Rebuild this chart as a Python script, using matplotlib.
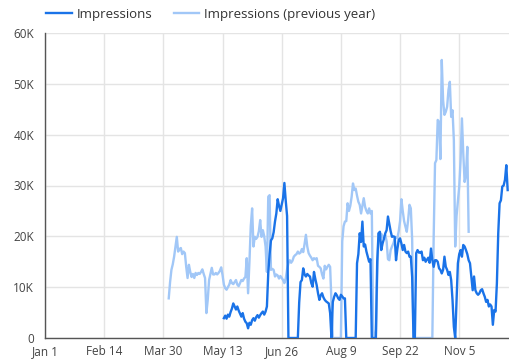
import matplotlib

matplotlib.use("Agg")
import matplotlib.pyplot as plt
import numpy as np

plt.rcParams["font.family"] = ["Open Sans", "DejaVu Sans"]

# daily impressions in thousands, indexed by day of year (Jan 1 = day 0)
prev_start = 92
prev_values = [
    7.8, 11, 13.4, 14.5, 16, 18, 19.9, 17, 17.5,
    17.7, 16.5, 17, 16.7, 14, 11.8, 14.4, 13, 12, 12.6,
    11.8, 12.8, 12.4, 12.8, 12.6, 13, 13.5, 12.6, 11.8, 4.9,
    7.5, 11.4, 12.6, 13.8, 12.5, 12.5, 12.8, 12.5, 12.8, 13.2,
    13.9, 12.4, 10.5, 9.8, 9.5, 10, 10.5, 11.4, 10.8, 10.6,
    11.0, 11.4, 10.5, 10.2, 10.8, 11.4, 11.2, 11.7, 12, 15.7,
    8.8, 15, 22, 25.5, 18, 19.9, 19.5, 19.9, 21, 23.2,
    19.9, 21.2, 20, 18, 13, 27.8, 28.1, 13.4, 13.6, 13.4,
    12.1, 12.5, 12.3, 11.7, 12.2, 11.8, 11.4, 10.8, 11.7, 13.5,
    14.7, 15.3, 14.8, 15.2, 16, 16.3, 16.5, 17, 16.6, 16.8,
    17.5, 16.9, 18.5, 20.3, 18, 16.7, 16.2, 15.8, 15.3, 15.7,
    15.5, 15.7, 14.2, 14.0, 13.7, 12.5, 11.7, 14.2, 13.5, 14.0,
    14.4, 14.0, 6.8, 0, 0, 0, 0, 0, 0, 0,
    19, 22, 22.9, 23, 26.5, 25, 26, 27.8, 30.4, 29.1,
    29.4, 28, 26.8, 26.2, 24.5, 26, 27.5, 25.8, 25, 24.5,
    25.5, 24.5, 25, 1.6, 0, 0, 12, 20.6, 19.5, 20.5,
    20.0, 19.5, 20.3, 19, 15.5, 15.3, 17.3, 18.0, 18.6, 19.5,
    19.8, 19.6, 21, 23, 27.3, 25, 23, 21.9, 20.9, 23.2,
    26.2, 25.5, 19.3, 0, 0, 0, 0, 0, 0, 0,
    0, 0, 0, 0, 0, 0, 0, 0, 20, 34.4,
    35, 42.9, 42.5, 35.2, 54.7, 46.8, 43.9, 44.5, 45.5, 48.8,
    50.4, 43.5, 44.8, 38.9, 18, 24, 27, 29.8, 35, 43.2,
    36.3, 30.7, 32, 37.6, 20.9,
]

cur_start = 133
cur_values = [
    3.9, 4.4, 3.8, 4.6, 4.2, 5.1, 5.8, 6.8,
    6.2, 5.6, 6.2, 5.4, 4.8, 4.2, 4.9, 3.8, 3.2, 2.9,
    1.9, 3.0, 2.6, 3.5, 3.9, 3.4, 4.1, 4.5, 4.0, 4.5,
    4.9, 5.2, 4.6, 5.2, 6.2, 12.8, 16.5, 19.2, 19.6, 20.8,
    22.9, 24.5, 27.3, 26.0, 25.0, 26.2, 27.5, 30.5, 27.0, 24.0,
    0, 0, 0, 0, 0, 0, 0, 0, 7.0, 11.0,
    11.4, 13.7, 12.5, 12.1, 12.6, 12.3, 12.1, 10.8, 10.1, 13.0,
    11.6, 10.4, 8.8, 7.5, 8.4, 8.8, 8.0, 7.5, 7.2, 7.0,
    6.8, 4.9, 0, 7.1, 8.1, 8.8, 8.4, 7.8, 7.5, 8.5,
    8.2, 7.8, 7.8, 0, 0, 0, 0, 0, 0, 0,
    0, 14.7, 16.5, 20.6, 18.9, 22.9, 18.0, 18.4, 17.0, 16.0,
    15.0, 15.5, 0, 0, 0, 0, 15, 20.6, 20.9, 17.3,
    18.6, 19.5, 20.6, 21.2, 23.9, 22.5, 21.0, 19.9, 20.0, 19.9,
    15.3, 17.5, 19.3, 19.6, 18.6, 17.3, 18.3, 17.0, 16.7, 17.0,
    16.0, 16.0, 12.0, 0, 0, 16.7, 17.3, 16.8, 16.8, 17.0,
    15.3, 15.8, 15.0, 15.4, 15.8, 14.8, 17.6, 15.3, 14.0, 15.3,
    15.3, 15.0, 13.7, 13.4, 12.7, 13.4, 16.0, 14.0, 13.4, 12.4,
    13.0, 11.4, 7.5, 2.2, 0, 7.5, 14.7, 16.5, 17.3, 16.0,
    18.3, 18.0, 17.3, 16.5, 15.3, 14.7, 12.1, 9.4, 12.1, 9.4,
    8.8, 8.5, 8.8, 9.4, 9.6, 8.8, 8.1, 7.1, 7.5, 6.2,
    6.6, 6.2, 2.6, 5.5, 5.2, 10.8, 20.6, 26.5, 27.1, 29.8,
    30.0, 31.1, 34.0, 29.1,
]

tick_days = [0, 44, 88, 132, 176, 220, 264, 308]
tick_labels = ["Jan 1", "Feb 14", "Mar 30", "May 13", "Jun 26", "Aug 9", "Sep 22", "Nov 5"]
y_ticks = [0, 10000, 20000, 30000, 40000, 50000, 60000]
y_labels = ["0", "10K", "20K", "30K", "40K", "50K", "60K"]

prev_days = np.arange(prev_start, prev_start + len(prev_values))
cur_days = np.arange(cur_start, cur_start + len(cur_values))

fig = plt.figure(figsize=(5.09, 3.62), dpi=100)
ax = fig.add_axes([45 / 509, 1 - 338 / 362, 1 - 45 / 509, (338 - 33) / 362])

ax.plot(cur_days, np.array(cur_values) * 1000, color="#1a73e8", lw=1.7,
        label="Impressions", zorder=3)
ax.plot(prev_days, np.array(prev_values) * 1000, color="#a1c7f7", lw=1.7,
        label="Impressions (previous year)", zorder=2)

ax.set_xlim(0, 345)
ax.set_ylim(0, 60000)
ax.set_xticks(tick_days, tick_labels)
ax.set_yticks(y_ticks, y_labels)
ax.tick_params(length=0, labelsize=8.5, labelcolor="#444444")
ax.tick_params(axis="x", pad=5)
ax.tick_params(axis="y", pad=8)
ax.grid(color="#e4e4e4", lw=1)
ax.set_axisbelow(True)
for side in ("top", "right"):
    ax.spines[side].set_visible(False)
for side in ("left", "bottom"):
    ax.spines[side].set_color("#555555")
    ax.spines[side].set_linewidth(1)

fig.legend(loc="upper left", bbox_to_anchor=(0.068, 1.012), ncol=2, frameon=False,
           fontsize=9.5, handlelength=1.9, columnspacing=1.6, handletextpad=0.4,
           labelcolor="#333333")

fig.savefig("out.png", dpi=100)
plt.close(fig)
